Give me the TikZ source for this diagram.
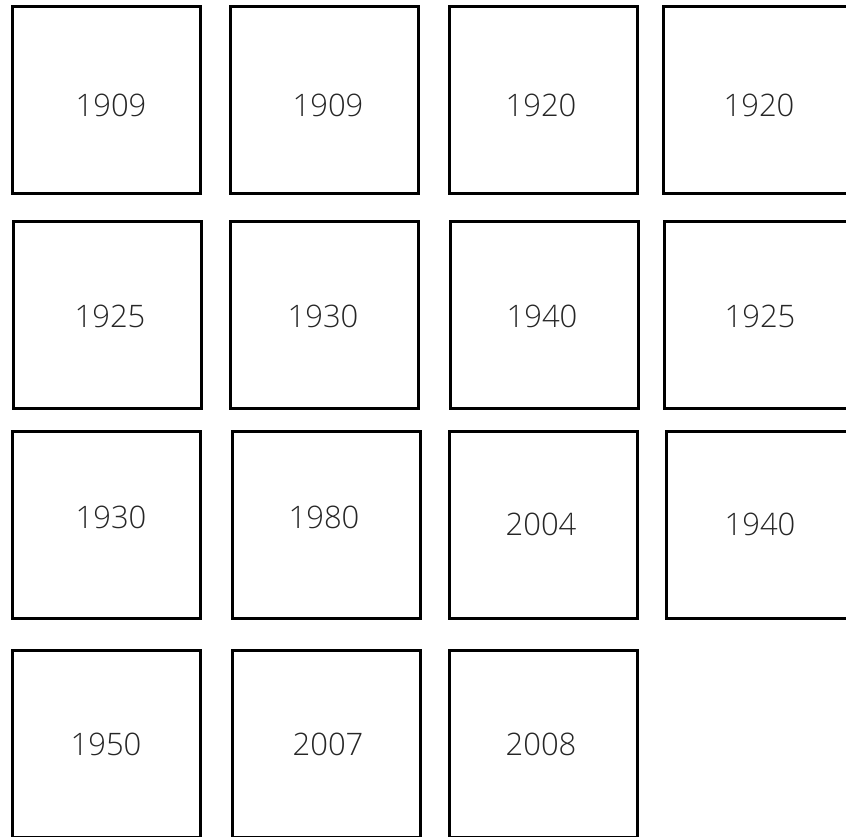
\documentclass[tikz,border=0pt]{standalone}
\usepackage{fontspec}
\newfontfamily\yearfont{Open Sans Light}[Scale=1]
\usepackage{tikz}
\usetikzlibrary{positioning}

\begin{document}
\begin{tikzpicture}[x=1pt, y=-1pt,
  card/.style={draw, line width=3pt, minimum width=188pt, minimum height=187pt, inner sep=0pt},
  yr/.style={font=\yearfont\fontsize{31pt}{31pt}\selectfont, inner sep=0pt, text=black!85}]
  \useasboundingbox (0,0) rectangle (846,836);
  \clip (0,0) rectangle (846,836);
  % row 1
  \node[card] (c11) at (106,100) {};
  \node[card] (c12) at (324,100) {};
  \node[card] (c13) at (543,100) {};
  \node[card] (c14) at (757.5,100) {};
  % row 2
  \node[card] (c21) at (107.5,315) {};
  \node[card] (c22) at (324,315) {};
  \node[card] (c23) at (544.5,315) {};
  \node[card] (c24) at (758.5,315) {};
  % row 3
  \node[card] (c31) at (106.5,525) {};
  \node[card] (c32) at (326,525) {};
  \node[card] (c33) at (543,525) {};
  \node[card] (c34) at (760,525) {};
  % row 4
  \node[card] (c41) at (106.5,744) {};
  \node[card] (c42) at (326,744) {};
  \node[card] (c43) at (543,744) {};
  % years
  \node[yr] (y11) at (111,105) {1909};
  \node[yr] (y12) at (328,105) {1909};
  \node[yr] (y13) at (541,105) {1920};
  \node[yr] (y14) at (759,105) {1920};
  \node[yr] (y21) at (110,316) {1925};
  \node[yr] (y22) at (323,316) {1930};
  \node[yr] (y23) at (542,316) {1940};
  \node[yr] (y24) at (760,316) {1925};
  \node[yr] (y31) at (111,517) {1930};
  \node[yr] (y32) at (324,517) {1980};
  \node[yr] (y33) at (541,524) {2004};
  \node[yr] (y34) at (760,524) {1940};
  \node[yr] (y41) at (106,744) {1950};
  \node[yr] (y42) at (328,744) {2007};
  \node[yr] (y43) at (541,744) {2008};
\end{tikzpicture}
\end{document}
